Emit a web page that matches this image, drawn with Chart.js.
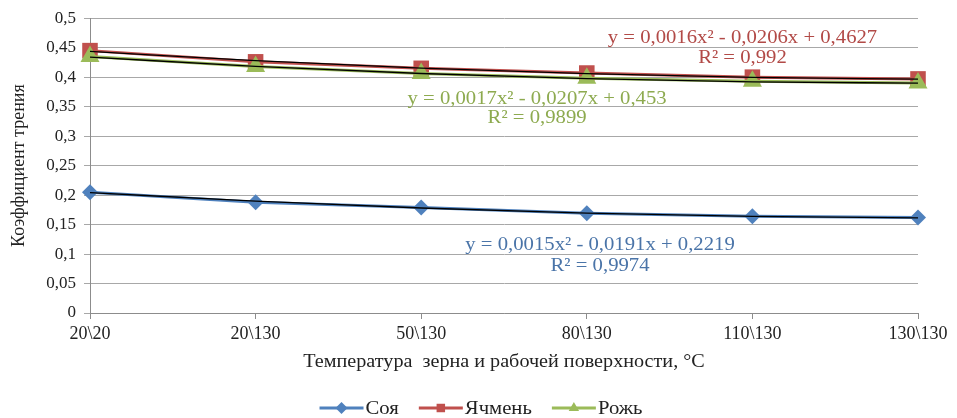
<!DOCTYPE html>
<html>
<head>
<meta charset="utf-8">
<script src="https://cdn.jsdelivr.net/npm/chart.js@4/dist/chart.umd.min.js"></script>
<style>
  html, body { margin: 0; padding: 0; background: #fff; }
  #wrap { width: 957px; height: 418px; }
</style>
</head>
<body>
<div id="wrap"><canvas id="grafico"></canvas></div>
<script>
const categorias = ['20\\20', '20\\130', '50\\130', '80\\130', '110\\130', '130\\130'];

const soya = [0.205, 0.188, 0.179, 0.169, 0.164, 0.162];
const yachmen = [0.445, 0.426, 0.415, 0.407, 0.400, 0.397];
const rozh = [0.435, 0.418, 0.406, 0.398, 0.393, 0.390];

// линии тренда (значения по уравнениям на графике)
const trendSoya = [0.2043, 0.1897, 0.1781, 0.1695, 0.1639, 0.1613];
const trendYachmen = [0.4437, 0.4279, 0.4153, 0.4059, 0.3997, 0.3967];
const trendRozh = [0.4340, 0.4184, 0.4062, 0.3974, 0.3920, 0.3900];

const yTicks = [0, 0.05, 0.1, 0.15, 0.2, 0.25, 0.3, 0.35, 0.4, 0.45, 0.5];

const cores = ['#4F81BD', '#C0504D', '#9BBB59'];

const tituloX = 'Температура  зерна и рабочей поверхности, °С';

// подписи уравнений: [текст, индекс категории, значение y, цвет]
const equacoes = [
    ['y = 0,0016x² - 0,0206x + 0,4627', 3.94, 0.466, '#B24A47'],
    ['R² = 0,992', 3.94, 0.432, '#B24A47'],
    ['y = 0,0017x² - 0,0207x + 0,453', 2.70, 0.363, '#8DAA4F'],
    ['R² = 0,9899', 2.70, 0.331, '#8DAA4F'],
    ['y = 0,0015x² - 0,0191x + 0,2219', 3.08, 0.116, '#4A74A8'],
    ['R² = 0,9974', 3.08, 0.080, '#4A74A8']
];

const fonte = '"Liberation Serif", "Times New Roman", serif';

// текст, немного растянутый по горизонтали (как в исходной картинке)
function textoLargo(ctx, txt, x, y, esticar) {
    ctx.save();
    ctx.translate(x, y);
    ctx.scale(esticar, 1);
    ctx.fillText(txt, 0, 0);
    ctx.restore();
}

const pluginTexto = {
    id: 'textoExtra',
    afterDatasetsDraw(chart) {
        const ctx = chart.ctx;
        const x = chart.scales.x;
        const y = chart.scales.y;
        ctx.save();
        ctx.font = '19px ' + fonte;
        ctx.textAlign = 'center';
        ctx.textBaseline = 'middle';
        equacoes.forEach(e => {
            ctx.fillStyle = e[3];
            textoLargo(ctx, e[0], x.getPixelForValue(e[1]), y.getPixelForValue(e[2]), 1.09);
        });

        // подпись оси X
        ctx.font = '18px ' + fonte;
        ctx.fillStyle = '#222';
        textoLargo(ctx, tituloX, 504, 362, 1.12);
        ctx.restore();

        // легенда
        const itens = chart.data.datasets.filter(d => !d.trend);
        const esticar = 1.09;
        ctx.save();
        ctx.font = '19px ' + fonte;
        ctx.textBaseline = 'middle';
        ctx.textAlign = 'left';
        const linha = 44, gap = 2, entre = 20;
        let total = 0;
        itens.forEach((d, i) => {
            total += linha + gap + ctx.measureText(d.label).width * esticar + (i < itens.length - 1 ? entre : 0);
        });
        let cx = 481 - total / 2;
        const cy = 408;
        itens.forEach(d => {
            ctx.strokeStyle = d.borderColor;
            ctx.lineWidth = 3;
            ctx.beginPath();
            ctx.moveTo(cx, cy);
            ctx.lineTo(cx + linha, cy);
            ctx.stroke();
            ctx.fillStyle = d.backgroundColor;
            Chart.helpers.drawPoint(ctx, { pointStyle: d.pointStyle, radius: 6, rotation: 0, borderWidth: 0 }, cx + linha / 2, cy);
            cx += linha + gap;
            ctx.fillStyle = '#222';
            textoLargo(ctx, d.label, cx, cy + 1, esticar);
            cx += ctx.measureText(d.label).width * esticar + entre;
        });
        ctx.restore();
    }
};

function serie(label, dados, cor, estilo, raio, ordem) {
    return {
        label: label,
        data: dados,
        borderColor: cor,
        backgroundColor: cor,
        borderWidth: 3,
        pointStyle: estilo,
        pointRadius: raio,
        pointHoverRadius: raio,
        pointBorderWidth: 0,
        tension: 0,
        clip: false,
        order: ordem
    };
}

function tendencia(dados) {
    return {
        label: '',
        trend: true,
        data: dados,
        borderColor: '#000',
        borderWidth: 1.3,
        pointRadius: 0,
        tension: 0.4,
        cubicInterpolationMode: 'monotone',
        clip: false,
        order: 1
    };
}

const ctx = document.getElementById('grafico').getContext('2d');
new Chart(ctx, {
    type: 'line',
    data: {
        labels: categorias,
        datasets: [
            serie('Соя', soya, cores[0], 'rectRot', 8, 2),
            serie('Ячмень', yachmen, cores[1], 'rect', 11, 4),
            serie('Рожь', rozh, cores[2], 'triangle', 11, 3),
            tendencia(trendSoya),
            tendencia(trendYachmen),
            tendencia(trendRozh)
        ]
    },
    options: {
        responsive: true,
        maintainAspectRatio: false,
        animation: false,
        layout: { padding: { top: 18, right: 39, left: 0, bottom: 40 } },
        plugins: {
            legend: { display: false },
            tooltip: { enabled: false }
        },
        scales: {
            x: {
                offset: false,
                afterFit: s => { s.height = 65; },
                grid: { drawOnChartArea: false, drawTicks: true, tickLength: 6, color: '#8c8c8c' },
                border: { color: '#8c8c8c', width: 1 },
                ticks: { color: '#222', padding: 4, font: { family: fonte, size: 18 }, maxRotation: 0, autoSkip: false },
                title: { display: false }
            },
            y: {
                min: 0,
                max: 0.5,
                afterFit: s => { s.width = 90; },
                afterBuildTicks: s => { s.ticks = yTicks.map(v => ({ value: v })); },
                grid: { color: '#a8a8a8', tickLength: 6, lineWidth: 1 },
                border: { color: '#8c8c8c', width: 1 },
                ticks: {
                    color: '#222',
                    padding: 8,
                    font: { family: fonte, size: 17 },
                    callback: v => String(Math.round(v * 100) / 100).replace('.', ',')
                },
                title: {
                    display: true,
                    text: 'Коэффициент трения',
                    color: '#222',
                    font: { family: fonte, size: 18 },
                    padding: { top: 8, bottom: 0 }
                }
            }
        }
    },
    plugins: [pluginTexto]
});
</script>
</body>
</html>
